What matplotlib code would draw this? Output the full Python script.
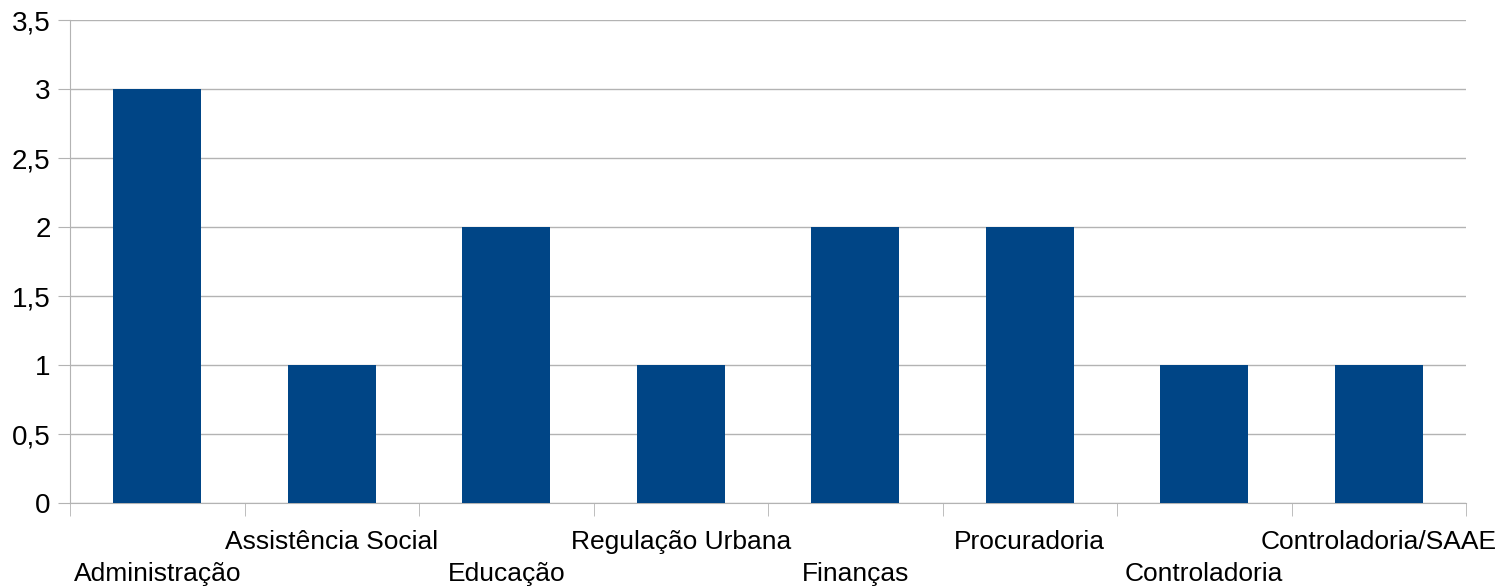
import matplotlib
matplotlib.use("Agg")
import matplotlib.pyplot as plt
import matplotlib.transforms as mtransforms
from matplotlib.ticker import FuncFormatter, FixedLocator
import numpy as np

# ── Data ─────────────────────────────────────────────────────────────
categories = ["Administração", "Assistência Social", "Educação", "Regulação Urbana",
              "Finanças", "Procuradoria", "Controladoria", "Controladoria/SAAE"]
values = [3, 1, 2, 1, 2, 2, 1, 1]
y_ticks = [0, 0.5, 1, 1.5, 2, 2.5, 3, 3.5]

BAR_COLOR = "#004586"
GRID_COLOR = "#b3b3b3"

plt.rcParams["font.family"] = ["Liberation Sans", "DejaVu Sans"]

W, H = 1497, 586
fig = plt.figure(figsize=(W / 100, H / 100), dpi=100)
ax = fig.add_axes([70 / W, (H - 503) / H, (1466 - 70) / W, (503 - 20) / H])

x = np.arange(len(categories))
ax.bar(x, values, width=0.505, color=BAR_COLOR, zorder=3)

ax.set_xlim(-0.5, len(categories) - 0.5)
ax.set_ylim(0, 3.5)
ax.set_yticks(y_ticks)
ax.yaxis.set_major_formatter(FuncFormatter(lambda v, p: f"{v:g}".replace(".", ",")))
ax.grid(axis="y", color=GRID_COLOR, linewidth=1, zorder=0)

for s in ["top", "right"]:
    ax.spines[s].set_visible(False)
ax.spines["left"].set_color(GRID_COLOR)
ax.spines["bottom"].set_color(GRID_COLOR)

ax.tick_params(axis="y", length=9, color=GRID_COLOR, labelsize=20, pad=5)

# category boundaries as minor ticks, labels at centres
ax.set_xticks(x)
ax.set_xticklabels(categories)
ax.xaxis.set_minor_locator(FixedLocator(np.arange(len(categories) + 1) - 0.5))
ax.tick_params(axis="x", which="major", length=0, labelsize=19, pad=19.5)
ax.tick_params(axis="x", which="minor", length=9, color=GRID_COLOR)

# stagger labels: even indices on the lower row
for i, lab in enumerate(ax.get_xticklabels()):
    if i % 2 == 0:
        off = mtransforms.ScaledTranslation(0, -32 / 100, fig.dpi_scale_trans)
        lab.set_transform(lab.get_transform() + off)

fig.savefig("out.png", dpi=100, facecolor="white")
